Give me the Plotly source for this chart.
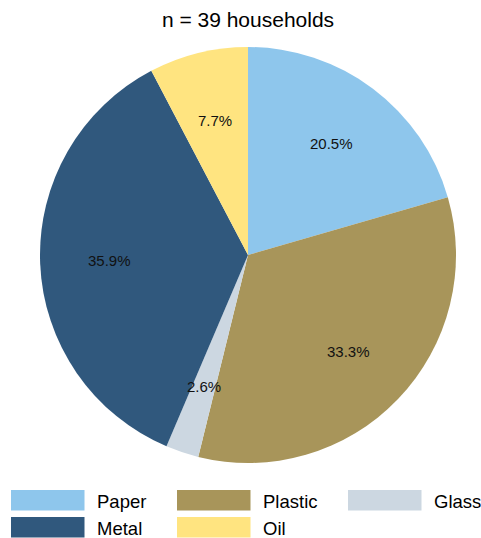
import math
import plotly.graph_objects as go

categories = ["Paper", "Plastic", "Glass", "Metal", "Oil"]
counts = [8, 13, 1, 14, 3]
colors = ["#8EC6EC", "#A8955A", "#CCD7E1", "#30587D", "#FFE480"]
title_text = "n = 39 households"

W, H = 481, 538
ml, mr, mt, mb = 40, 25, 47, 75
pw = W - ml - mr
ph = H - mt - mb

fig = go.Figure(go.Pie(
    labels=categories, values=counts, sort=False, direction="clockwise",
    rotation=0, marker=dict(colors=colors, line=dict(width=0)),
    textinfo="none", hoverinfo="label+percent", showlegend=False,
))

# percentage labels placed at ~0.67 of radius along slice mid-angle
total = sum(counts)
cum = 0
annotations = []
for v in counts:
    mid = (cum + v / 2) / total
    cum += v
    ang = mid * 2 * math.pi
    r = 0.668 * 0.5
    x = 0.5 + r * math.sin(ang)
    y = 0.5 + r * math.cos(ang)
    annotations.append(dict(x=x, y=y, xref="paper", yref="paper",
                            xanchor="center", yanchor="middle",
                            text=f"{v / total * 100:.1f}%", showarrow=False,
                            font=dict(size=15, color="#111111")))

def px_x(p):
    return (p - ml) / pw

def px_y(p):
    return 1 - (p - mt) / ph

shapes = []
col_x = [11, 177, 348]
row_y = [490, 517]
for i, (cat, col) in enumerate(zip(categories, colors)):
    c = i % 3
    rr = i // 3
    x0 = col_x[c]
    y0 = row_y[rr]
    shapes.append(dict(type="rect", xref="paper", yref="paper",
                       x0=px_x(x0), x1=px_x(x0 + 73.5), y0=px_y(y0), y1=px_y(y0 + 20.5),
                       fillcolor=col, line=dict(width=0)))
    annotations.append(dict(x=px_x(x0 + 84), y=px_y(y0 + 11.5), xref="paper", yref="paper",
                            xanchor="left", yanchor="middle", text=cat, showarrow=False,
                            font=dict(size=18.5, color="black")))

fig.update_layout(
    width=W, height=H,
    margin=dict(l=ml, r=mr, t=mt, b=mb),
    paper_bgcolor="white", plot_bgcolor="white",
    font=dict(family="Liberation Sans, Arial, sans-serif", color="black"),
    title=dict(text=title_text, x=px_x(248), xref="paper", y=1 - 20 / H,
               yref="container", xanchor="center", yanchor="middle",
               font=dict(size=21, color="black")),
    shapes=shapes, annotations=annotations,
)

fig.write_html("out.html")
